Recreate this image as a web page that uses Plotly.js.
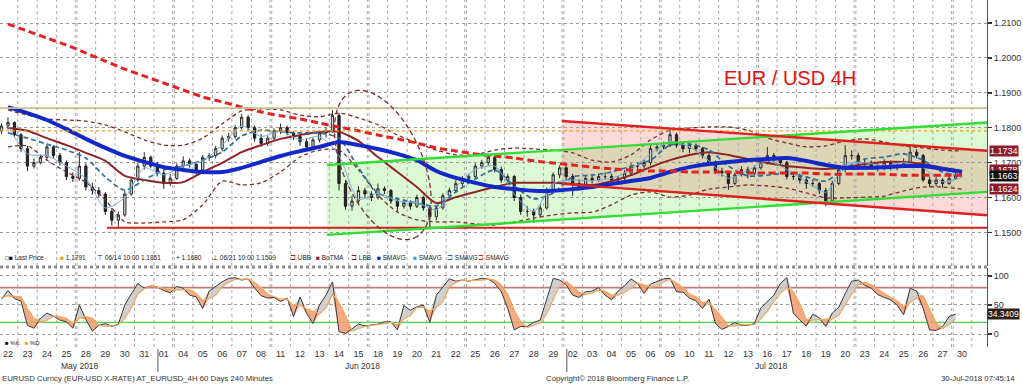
<!DOCTYPE html>
<html><head><meta charset="utf-8">
<script src="https://cdn.plot.ly/plotly-3.0.1.min.js"></script>
<style>html,body{margin:0;padding:0;background:#fff;overflow:hidden}#chart{width:1023px;height:384px}</style>
</head><body><div id="chart"></div>
<script>
// ---------------- DATA ----------------
const dates = ['2018-05-22','2018-05-23','2018-05-24','2018-05-25','2018-05-28','2018-05-29','2018-05-30','2018-05-31',
'2018-06-01','2018-06-04','2018-06-05','2018-06-06','2018-06-07','2018-06-08','2018-06-11','2018-06-12','2018-06-13','2018-06-14','2018-06-15',
'2018-06-18','2018-06-19','2018-06-20','2018-06-21','2018-06-22','2018-06-25','2018-06-26','2018-06-27','2018-06-28','2018-06-29',
'2018-07-02','2018-07-03','2018-07-04','2018-07-05','2018-07-06','2018-07-09','2018-07-10','2018-07-11','2018-07-12','2018-07-13',
'2018-07-16','2018-07-17','2018-07-18','2018-07-19','2018-07-20','2018-07-23','2018-07-24','2018-07-25','2018-07-26','2018-07-27','2018-07-30'];
const monthNames = {'05':'May 2018','06':'Jun 2018','07':'Jul 2018'};

// 4H-style candles, three per trading day
const candleOpen = [1.1790,1.1805,1.1815, 1.1780,1.1740,1.1690, 1.1700,1.1715,1.1745, 1.1720,1.1700,1.1660, 1.1655,1.1690,1.1630,
1.1620,1.1610,1.1560, 1.1535,1.1550,1.1610, 1.1650,1.1690,1.1715, 1.1690,1.1670,1.1640, 1.1655,1.1690,1.1705, 1.1695,1.1680,1.1715,
1.1720,1.1740,1.1770, 1.1775,1.1800,1.1830, 1.1800,1.1770,1.1755, 1.1770,1.1790,1.1800, 1.1785,1.1775,1.1760, 1.1745,1.1765,1.1785,
1.1790,1.1835,1.1640, 1.1575,1.1590,1.1620, 1.1610,1.1600,1.1625, 1.1620,1.1590,1.1575, 1.1585,1.1575,1.1600, 1.1570,1.1545,1.1570,
1.1605,1.1620,1.1640, 1.1655,1.1660,1.1690, 1.1700,1.1715,1.1680, 1.1650,1.1660,1.1600, 1.1560,1.1560,1.1550, 1.1570,1.1620,1.1665,
1.1685,1.1660,1.1640, 1.1630,1.1655,1.1650, 1.1660,1.1660,1.1650, 1.1655,1.1670,1.1690, 1.1690,1.1700,1.1740, 1.1745,1.1750,1.1780,
1.1750,1.1740,1.1750, 1.1740,1.1720,1.1700, 1.1675,1.1670,1.1640, 1.1665,1.1680,1.1670, 1.1685,1.1700,1.1720, 1.1710,1.1700,1.1660,
1.1660,1.1650,1.1640, 1.1640,1.1620,1.1590, 1.1640,1.1680,1.1720, 1.1720,1.1700,1.1700, 1.1690,1.1685,1.1700, 1.1685,1.1690,1.1700,
1.1730,1.1720,1.1650, 1.1640,1.1650,1.1640, 1.1655];
const candleHigh = [1.1812,1.1830,1.1818, 1.1784,1.1748,1.1712, 1.1722,1.1752,1.1750, 1.1728,1.1706,1.1672, 1.1730,1.1698,1.1642,
1.1630,1.1615,1.1570, 1.1560,1.1620,1.1660, 1.1700,1.1730,1.1720, 1.1702,1.1680,1.1668, 1.1698,1.1718,1.1712, 1.1700,1.1722,1.1728,
1.1748,1.1778,1.1785, 1.1808,1.1840,1.1836, 1.1806,1.1782,1.1778, 1.1798,1.1812,1.1806, 1.1790,1.1782,1.1768, 1.1772,1.1792,1.1800,
1.1851,1.1842,1.1650, 1.1605,1.1632,1.1628, 1.1618,1.1640,1.1632, 1.1624,1.1598,1.1595, 1.1592,1.1608,1.1605, 1.1575,1.1578,1.1612,
1.1628,1.1650,1.1662, 1.1668,1.1698,1.1708, 1.1722,1.1720,1.1688, 1.1668,1.1665,1.1608, 1.1575,1.1568,1.1580, 1.1628,1.1672,1.1692,
1.1690,1.1668,1.1652, 1.1662,1.1668,1.1668, 1.1672,1.1668,1.1662, 1.1678,1.1698,1.1700, 1.1708,1.1750,1.1755, 1.1760,1.1793,1.1786,
1.1758,1.1762,1.1755, 1.1745,1.1728,1.1706, 1.1685,1.1676,1.1672, 1.1690,1.1688,1.1692, 1.1708,1.1745,1.1728, 1.1718,1.1705,1.1672,
1.1668,1.1660,1.1652, 1.1645,1.1628,1.1648, 1.1690,1.1750,1.1735, 1.1728,1.1712,1.1706, 1.1698,1.1710,1.1706, 1.1698,1.1712,1.1745,
1.1738,1.1725,1.1658, 1.1660,1.1655,1.1662, 1.1670];
const candleLow = [1.1782,1.1795,1.1772, 1.1730,1.1676,1.1683, 1.1695,1.1708,1.1712, 1.1692,1.1650,1.1645, 1.1648,1.1620,1.1608,
1.1600,1.1550,1.1520, 1.1510,1.1545,1.1605, 1.1645,1.1680,1.1685, 1.1660,1.1625,1.1632, 1.1650,1.1680,1.1685, 1.1666,1.1672,1.1705,
1.1712,1.1732,1.1760, 1.1768,1.1795,1.1790, 1.1760,1.1745,1.1748, 1.1765,1.1782,1.1778, 1.1765,1.1748,1.1738, 1.1740,1.1758,1.1772,
1.1785,1.1620,1.1565, 1.1562,1.1580,1.1598, 1.1590,1.1594,1.1610, 1.1582,1.1560,1.1568, 1.1565,1.1570,1.1562, 1.1509,1.1535,1.1565,
1.1598,1.1612,1.1632, 1.1645,1.1652,1.1682, 1.1692,1.1672,1.1642, 1.1642,1.1590,1.1550, 1.1545,1.1528,1.1542, 1.1565,1.1612,1.1655,
1.1650,1.1605,1.1620, 1.1625,1.1640,1.1645, 1.1652,1.1642,1.1645, 1.1650,1.1662,1.1680, 1.1682,1.1692,1.1732, 1.1738,1.1745,1.1742,
1.1730,1.1728,1.1732, 1.1712,1.1690,1.1668, 1.1660,1.1622,1.1635, 1.1660,1.1655,1.1665, 1.1680,1.1695,1.1702, 1.1692,1.1652,1.1650,
1.1640,1.1625,1.1630, 1.1610,1.1575,1.1585, 1.1635,1.1672,1.1708, 1.1692,1.1680,1.1682, 1.1675,1.1678,1.1678, 1.1678,1.1684,1.1695,
1.1712,1.1645,1.1630, 1.1632,1.1628,1.1636, 1.1650];
const candleClose = [1.1805,1.1815,1.1780, 1.1740,1.1690,1.1700, 1.1715,1.1745,1.1720, 1.1700,1.1660,1.1655, 1.1690,1.1630,1.1620,
1.1610,1.1560,1.1535, 1.1550,1.1610,1.1650, 1.1690,1.1715,1.1690, 1.1670,1.1640,1.1655, 1.1690,1.1705,1.1695, 1.1680,1.1715,1.1720,
1.1740,1.1770,1.1775, 1.1800,1.1830,1.1800, 1.1770,1.1755,1.1770, 1.1790,1.1800,1.1785, 1.1775,1.1760,1.1745, 1.1765,1.1785,1.1790,
1.1835,1.1640,1.1575, 1.1590,1.1620,1.1610, 1.1600,1.1625,1.1620, 1.1590,1.1575,1.1585, 1.1575,1.1600,1.1570, 1.1545,1.1570,1.1605,
1.1620,1.1640,1.1655, 1.1660,1.1690,1.1700, 1.1715,1.1680,1.1650, 1.1660,1.1600,1.1560, 1.1560,1.1550,1.1570, 1.1620,1.1665,1.1685,
1.1660,1.1640,1.1630, 1.1655,1.1650,1.1660, 1.1660,1.1650,1.1655, 1.1670,1.1690,1.1690, 1.1700,1.1740,1.1745, 1.1750,1.1780,1.1750,
1.1740,1.1750,1.1740, 1.1720,1.1700,1.1675, 1.1670,1.1640,1.1665, 1.1680,1.1670,1.1685, 1.1700,1.1720,1.1710, 1.1700,1.1660,1.1660,
1.1650,1.1640,1.1640, 1.1620,1.1590,1.1640, 1.1680,1.1720,1.1720, 1.1700,1.1700,1.1690, 1.1685,1.1700,1.1685, 1.1690,1.1700,1.1730,
1.1720,1.1650,1.1640, 1.1650,1.1640,1.1655, 1.1663];

// studies, one value per trading day
const smaThick = [1.1859,1.1842,1.1822,1.1796,1.1768,1.1742,1.1719,1.1702,1.1687,1.1679,1.1673,1.1673,1.1685,1.1702,1.1719,1.1733,1.1745,1.1759,1.1750,1.1739,
1.1725,1.1707,1.1676,1.1656,1.1642,1.1630,1.1624,1.1619,1.1619,1.1624,1.1630,1.1639,1.1647,1.1656,1.1673,1.1687,1.1696,1.1702,1.1707,1.1710,
1.1713,1.1705,1.1693,1.1685,1.1685,1.1687,1.1690,1.1690,1.1682,1.1673];
const sma200 = [1.2097,1.2077,1.2057,1.2037,1.2014,1.1991,1.1968,1.1948,1.1928,1.1908,1.1888,1.1874,1.1859,1.1845,1.1834,1.1825,1.1813,1.1802,1.1791,1.1779,
1.1768,1.1756,1.1742,1.1733,1.1725,1.1719,1.1713,1.1705,1.1699,1.1693,1.1687,1.1682,1.1679,1.1676,1.1676,1.1673,1.1673,1.1673,1.1670,1.1670,
1.1670,1.1670,1.1667,1.1667,1.1667,1.1667,1.1664,1.1664,1.1664,1.1664];
const boTMA = [1.1799,1.1791,1.1770,1.1750,1.1728,1.1705,1.1662,1.1650,1.1642,1.1644,1.1673,1.1699,1.1730,1.1750,1.1768,1.1779,1.1788,1.1788,1.1762,1.1716,
1.1673,1.1630,1.1584,1.1601,1.1616,1.1630,1.1642,1.1642,1.1642,1.1639,1.1636,1.1647,1.1664,1.1687,1.1707,1.1722,1.1730,1.1722,1.1710,1.1699,
1.1690,1.1685,1.1682,1.1687,1.1696,1.1702,1.1702,1.1696,1.1685,1.1676];
const bbUpper = [1.1851,1.1836,1.1825,1.1822,1.1819,1.1808,1.1788,1.1765,1.1750,1.1750,1.1770,1.1811,1.1848,1.1854,1.1851,1.1836,1.1831,1.1842,1.1828,1.1808,
1.1779,1.1756,1.1736,1.1722,1.1722,1.1736,1.1742,1.1739,1.1736,1.1728,1.1707,1.1702,1.1722,1.1765,1.1793,1.1799,1.1802,1.1802,1.1793,1.1770,
1.1756,1.1745,1.1748,1.1762,1.1768,1.1759,1.1748,1.1742,1.1736,1.1733];
const bbLower = [1.1745,1.1748,1.1707,1.1673,1.1644,1.1593,1.1530,1.1527,1.1530,1.1536,1.1579,1.1647,1.1636,1.1642,1.1673,1.1716,1.1736,1.1736,1.1679,1.1607,
1.1558,1.1536,1.1530,1.1530,1.1524,1.1521,1.1530,1.1541,1.1550,1.1556,1.1558,1.1579,1.1607,1.1616,1.1601,1.1607,1.1624,1.1630,1.1636,1.1633,
1.1627,1.1613,1.1599,1.1599,1.1601,1.1604,1.1619,1.1630,1.1630,1.1624];
const smaDash = [1.1785,1.1770,1.1753,1.1736,1.1713,1.1659,1.1621,1.1650,1.1679,1.1690,1.1707,1.1730,1.1776,1.1793,1.1788,1.1785,1.1785,1.1770,1.1685,1.1613,
1.1596,1.1584,1.1576,1.1616,1.1653,1.1679,1.1633,1.1596,1.1613,1.1659,1.1664,1.1673,1.1690,1.1707,1.1750,1.1753,1.1736,1.1690,1.1662,1.1664,
1.1670,1.1659,1.1647,1.1685,1.1710,1.1716,1.1725,1.1707,1.1673,1.1659];
const smaFast = [1.1805,1.1725,1.1720,1.1690,1.1655,1.1570,1.1600,1.1685,1.1665,1.1690,1.1705,1.1750,1.1805,1.1775,1.1790,1.1765,1.1775,1.1720,1.1595,1.1612,
1.1590,1.1585,1.1565,1.1630,1.1680,1.1690,1.1610,1.1560,1.1640,1.1650,1.1648,1.1655,1.1680,1.1725,1.1760,1.1745,1.1705,1.1655,1.1678,1.1705,
1.1680,1.1645,1.1615,1.1695,1.1700,1.1690,1.1700,1.1685,1.1645,1.1658];

// stochastic oscillator, one value per candle
const stochK = [60,75,61, 57,15,10, 27,36,31, 24,21,10, 50,25,5, 15,18,13, 17,50,69, 87,79,83, 81,75,71, 82,79,67, 64,44,74, 82,90,96,
97,93,95, 79,66,62, 63,56,62, 30,64,36, 18,50,67, 90,4,1, 9,17,14, 15,17,21, 21,7,49, 41,47,50, 20,67,82, 95,91,93, 91,93,96, 95,87,73,
44,7,13, 13,20,24, 61,96,93, 85,67,63, 73,74,80, 67,59,74, 83,95,87, 70,86,90, 95,96,73, 72,62,57, 44,60,18, 8,13,20, 15,15,18,
45,56,67, 87,97,36, 24,14,34, 28,13,36, 46,70,91, 93,84,79, 68,63,59, 50,33,79, 74,44,7, 6,13,30, 34.3409];
const stochD = [62,66,65, 64,44,27, 21,24,31, 30,27,18, 27,30,27, 15,13,15, 16,27,45, 69,78,83, 81,79,76, 76,76,76, 70,58,61, 67,82,89,
94,95,95, 89,80,69, 64,60,60, 49,50,43, 39,35,45, 69,54,32, 5,9,13, 15,16,18, 20,16,26, 32,46,46, 39,46,56, 81,89,93, 92,92,93, 95,93,85,
68,41,21, 11,15,19, 35,59,83, 91,82,72, 68,71,76, 74,67,67, 72,79,88, 84,81,82, 90,94,88, 80,69,64, 54,54,41, 29,14,14, 16,16,16,
26,39,56, 70,80,73, 52,25,24, 25,25,26, 32,51,69, 85,89,85, 77,70,63, 57,47,54, 62,66,42, 19,9,16, 26];

const priceTicks = [1.15,1.16,1.17,1.18,1.19,1.20,1.21];
const oscTicks = [0,50,100];

// drawn annotations (trend channels, levels, ellipse)
const greenUpper = {x:[16.38,50.28], y:[1.1693,1.1815]};
const greenLower = {x:[16.38,50.28], y:[1.1493,1.1616]};
const redUpper   = {x:[28.45,50.28], y:[1.1819,1.1734]};
const redLower   = {x:[28.45,50.28], y:[1.1639,1.1549]};
const levelTop = 1.1856, levelLast = 1.1791, levelBottom = 1.1513, levelBottomStart = 5.08;
const ellipse = {day:19.25, price:1.16931, a:79.5, b:40, ux:0.396, uy:0.918};
const oscUpper = 80, oscLower = 20;
const lastValues = [{v:1.1734,c:'#8c1b2b'},{v:1.1678,c:'#8c1b2b'},{v:1.1663,c:'#111111'},{v:1.1624,c:'#8c1b2b'}];

// ---------------- BUILD ----------------
const X0=-0.41, X1=50.28;
const Y0=1.14037, Y1=1.21659;
const O0=-22.4, O1=113.8;
const FS="'Liberation Sans',Arial,sans-serif";
const dayX = dates.map((_,i)=>i);
const dayLabels = dates.map(d=>d.slice(8));
const cx = candleClose.map((_,k)=>Math.floor(k/3)+((k%3)-1)/3);

const traces=[];
traces.push({type:'candlestick',x:cx,open:candleOpen,high:candleHigh,low:candleLow,close:candleClose,xaxis:'x',yaxis:'y',
  increasing:{line:{color:'#2b2b2b',width:1},fillcolor:'#d6d6d6'},decreasing:{line:{color:'#1c1c1c',width:1},fillcolor:'#2b2b2b'},
  whiskerwidth:0,hoverinfo:'skip',showlegend:false});
const ln=(y,color,width,dash)=>({type:'scatter',mode:'lines',x:dayX,y:y,xaxis:'x',yaxis:'y',
  line:{color:color,width:width,dash:dash||'solid',shape:'spline',smoothing:0.7},hoverinfo:'skip',showlegend:false});
traces.push(ln(bbUpper,'#7b2d2d',1.3,'4px,3px'));
traces.push(ln(bbLower,'#7b2d2d',1.3,'4px,3px'));
traces.push(ln(boTMA,'#8e2424',2));
traces.push(ln(smaDash,'#2f6f9f',1.7,'5px,3px'));
traces.push(ln(smaFast,'#6fb0e0',1));
traces.push(ln(smaThick,'#1428c8',4));
traces.push(ln(sma200,'#e42222',3,'7px,4px'));

const kx = cx.slice(0,stochK.length);
const hiKD = stochK.map((k,i)=>Math.max(k,stochD[i]));
const loKD = stochK.map((k,i)=>Math.min(k,stochD[i]));
const osc=(y,extra)=>Object.assign({type:'scatter',mode:'lines',x:kx,y:y,xaxis:'x2',yaxis:'y2',hoverinfo:'skip',showlegend:false},extra);
traces.push(osc(stochD,{line:{width:0,color:'rgba(0,0,0,0)'}}));
traces.push(osc(hiKD,{line:{width:0,color:'rgba(0,0,0,0)'},fill:'tonexty',fillcolor:'rgba(200,200,200,0.85)'}));
traces.push(osc(stochD,{line:{width:0,color:'rgba(0,0,0,0)'}}));
traces.push(osc(loKD,{line:{width:0,color:'rgba(0,0,0,0)'},fill:'tonexty',fillcolor:'rgba(245,155,110,0.85)'}));
traces.push(osc(stochK,{line:{color:'#3a3a3a',width:1}}));
traces.push(osc(stochD,{line:{color:'#f2a65a',width:1.2}}));

// shapes
const at=(L,x)=>L.y[0]+(L.y[1]-L.y[0])*(x-L.x[0])/(L.x[1]-L.x[0]);
function band(topF,botF,xa,xb){
  const n=120, up=[], dn=[];
  for(let i=0;i<=n;i++){const x=xa+(xb-xa)*i/n; up.push(x+','+topF(x)); dn.push(x+','+botF(x));}
  return 'M'+up.join(' L')+' L'+dn.reverse().join(' L')+' Z';
}
const shapes=[];
shapes.push({type:'path',xref:'x',yref:'y',layer:'below',line:{width:0},fillcolor:'#dcf9d4',
  path:band(x=>at(greenUpper,x),x=>at(greenLower,x),greenUpper.x[0],X1)});
shapes.push({type:'path',xref:'x',yref:'y',layer:'below',line:{width:0},fillcolor:'#fbd9d9',
  path:band(x=>at(redUpper,x),x=>at(redLower,x),redUpper.x[0],X1)});
shapes.push({type:'path',xref:'x',yref:'y',layer:'below',line:{width:0},fillcolor:'#dcd5b6',
  path:band(x=>Math.min(at(greenUpper,x),at(redUpper,x)),x=>Math.max(at(greenLower,x),at(redLower,x)),redUpper.x[0],X1)});
// vertical day-boundary grid, doubled over weekends
const gridX=[];
for(let i=0;i<dates.length;i++){
  const b=i+0.5;
  if(i<dates.length-1){
    const gap=(new Date(dates[i+1])-new Date(dates[i]))/86400000;
    if(gap>1){gridX.push(b-0.045,b+0.045);} else gridX.push(b);
  } else gridX.push(b);
}
gridX.forEach(g=>{
  shapes.push({type:'line',xref:'x',yref:'y',x0:g,x1:g,y0:Y0,y1:Y1,layer:'below',line:{color:'#a9a9a9',width:1,dash:'3px,3px'}});
  shapes.push({type:'line',xref:'x2',yref:'y2',x0:g,x1:g,y0:O0,y1:O1,layer:'below',line:{color:'#a9a9a9',width:1,dash:'3px,3px'}});
});
// osc levels
shapes.push({type:'line',xref:'x2',yref:'y2',x0:X0,x1:X1,y0:oscUpper,y1:oscUpper,layer:'below',line:{color:'#c07a7a',width:1.6}});
shapes.push({type:'line',xref:'x2',yref:'y2',x0:X0,x1:X1,y0:oscLower,y1:oscLower,layer:'below',line:{color:'#4fd24f',width:1.2}});
// horizontal levels
shapes.push({type:'line',xref:'x',yref:'y',x0:X0,x1:X1,y0:levelTop,y1:levelTop,line:{color:'#c9bd8e',width:1.6}});
shapes.push({type:'line',xref:'x',yref:'y',x0:X0,x1:X1,y0:levelLast,y1:levelLast,line:{color:'#f0a030',width:1.2,dash:'dot'}});
shapes.push({type:'line',xref:'x',yref:'y',x0:levelBottomStart,x1:X1,y0:levelBottom,y1:levelBottom,line:{color:'#d42020',width:2}});
// trend lines
[[greenUpper,'#33dd33'],[greenLower,'#33dd33'],[redUpper,'#e02020'],[redLower,'#e02020']].forEach(([L,c])=>{
  shapes.push({type:'line',xref:'x',yref:'y',x0:L.x[0],x1:X1,y0:L.y[0],y1:at(L,X1),line:{color:c,width:2.4}});
});
// ellipse
(function(){
  const pxDay=987/(X1-X0), pxPrice=266/(Y1-Y0);
  const vx=ellipse.uy, vy=-ellipse.ux; const pts=[];
  for(let i=0;i<=72;i++){const t=2*Math.PI*i/72;
    const dx=ellipse.a*Math.cos(t)*ellipse.ux+ellipse.b*Math.sin(t)*vx;
    const dy=ellipse.a*Math.cos(t)*ellipse.uy+ellipse.b*Math.sin(t)*vy;
    pts.push((ellipse.day+dx/pxDay)+','+(ellipse.price-dy/pxPrice));}
  shapes.push({type:'path',xref:'x',yref:'y',path:'M'+pts.join(' L')+' Z',line:{color:'#7a3030',width:1.3,dash:'5px,3px'}});
})();
// panel separator and month separators
shapes.push({type:'line',xref:'paper',yref:'paper',x0:0,x1:1,y0:0.2305,y1:0.2305,line:{color:'#8d8d8d',width:3,dash:'dot'}});
const monthStarts=[];
dates.forEach((d,i)=>{ if(i>0 && d.slice(5,7)!==dates[i-1].slice(5,7)) monthStarts.push(i); });
monthStarts.forEach(i=>{const px=(i-0.3-X0)/(X1-X0);
  shapes.push({type:'line',xref:'paper',yref:'paper',x0:px,x1:px,y0:-0.006,y1:-0.072,line:{color:'#555',width:1}});});

// annotations
const ann=[];
ann.push({xref:'paper',yref:'paper',x:0.8004,y:0.7752,xanchor:'center',yanchor:'middle',text:'EUR / USD 4H',showarrow:false,font:{family:FS,size:20,color:'#dd1111'}});
const legendItems=[
 [3,'<span style="color:#999">◘</span><span style="color:#000">■</span> Last Price'],
 [58,'<span style="color:#f5a020">■</span> 1.1791'],
 [95,'⊤ 06/14 10:00 1.1851'],
 [174,'+ 1.1680'],
 [210,'⊥ 06/21 10:00 1.1509'],
 [288,'<span style="color:#8b1c1c">⊐</span> UBB'],
 [314,'<span style="color:#8b1c2c">■</span> BoTMA'],
 [349,'<span style="color:#8b1c1c">⊐</span> LBB'],
 [375,'<span style="color:#0010d0">■</span> SMAVG'],
 [411,'<span style="color:#3a9ae8">■</span> SMAVG'],
 [445,'<span style="color:#2a6a9a">⊐</span> SMAVG'],
 [476,'<span style="color:#e02020">⊐</span> SMAVG']];
legendItems.forEach(([px,t])=>ann.push({xref:'paper',yref:'paper',x:px/987,y:0.2565,xanchor:'left',yanchor:'middle',text:t,showarrow:false,font:{family:FS,size:6.5,color:'#222'}}));
ann.push({xref:'paper',yref:'paper',x:3/987,y:0.0125,xanchor:'left',yanchor:'middle',text:'<span style="color:#111">■</span> %K   <span style="color:#f5a020">■</span> %D',showarrow:false,font:{family:FS,size:6,color:'#222'}});
// month labels
const months=[];
dates.forEach((d,i)=>{const m=d.slice(5,7); const last=months[months.length-1];
  if(!last||last.m!==m) months.push({m:m,a:i,b:i}); else last.b=i;});
months.forEach(M=>{const c=(M.a+M.b)/2; ann.push({xref:'paper',yref:'paper',x:(c+0.2-X0)/(X1-X0),y:-0.0548,xanchor:'center',yanchor:'middle',text:monthNames[M.m],showarrow:false,font:{family:FS,size:8.5,color:'#333'}});});
ann.push({xref:'paper',yref:'paper',x:0,y:-0.0922,xanchor:'left',yanchor:'middle',text:'EURUSD Curncy (EUR-USD X-RATE) AT_EURUSD_4H 60 Days 240 Minutes',showarrow:false,font:{family:FS,size:7.8,color:'#333'}});
ann.push({xref:'paper',yref:'paper',x:617/987,y:-0.0922,xanchor:'center',yanchor:'middle',text:'Copyright© 2018 Bloomberg Finance L.P.',showarrow:false,font:{family:FS,size:7.8,color:'#333'}});
ann.push({xref:'paper',yref:'paper',x:1017/987,y:-0.0922,xanchor:'right',yanchor:'middle',text:'30-Jul-2018 07:45:14',showarrow:false,font:{family:FS,size:7.8,color:'#333'}});
lastValues.forEach(L=>ann.push({xref:'paper',yref:'y',x:1,y:L.v,xanchor:'left',yanchor:'middle',xshift:2,text:L.v.toFixed(4),showarrow:false,bgcolor:L.c,borderpad:0,font:{family:FS,size:9,color:'#fff'}}));
ann.push({xref:'paper',yref:'y2',x:1,y:stochK[stochK.length-1],xanchor:'left',yanchor:'middle',xshift:0,text:stochK[stochK.length-1].toFixed(4),showarrow:false,bgcolor:'#2e2014',borderpad:0,font:{family:FS,size:8.5,color:'#fff'}});

const layout={
  width:1023,height:384,margin:{l:0,r:36,t:0,b:37},paper_bgcolor:'#fff',plot_bgcolor:'rgba(0,0,0,0)',
  showlegend:false,boxgap:0.5,hovermode:false,
  xaxis:{domain:[0,1],anchor:'y',range:[X0,X1],showticklabels:false,showgrid:false,zeroline:false,ticks:'',rangeslider:{visible:false},fixedrange:true},
  xaxis2:{domain:[0,1],anchor:'y2',range:[X0,X1],tickmode:'array',tickvals:dayX,ticktext:dayLabels,ticks:'',showgrid:false,zeroline:false,
    tickfont:{family:FS,size:9,color:'#333'},rangeslider:{visible:false},fixedrange:true},
  yaxis:{domain:[0.2334,1],anchor:'x',range:[Y0,Y1],side:'right',tickmode:'array',tickvals:priceTicks,ticktext:priceTicks.map(v=>v.toFixed(4)),
    showgrid:true,gridcolor:'#9a9a9a',griddash:'dot',gridwidth:1,zeroline:false,ticks:'outside',ticklen:4,tickwidth:1.5,tickcolor:'#333',
    showline:true,linecolor:'#555',linewidth:1,tickfont:{family:FS,size:9,color:'#333'},fixedrange:true},
  yaxis2:{domain:[0,0.2277],anchor:'x2',range:[O0,O1],side:'right',tickmode:'array',tickvals:oscTicks,
    showgrid:true,gridcolor:'#9a9a9a',griddash:'dot',gridwidth:1,zeroline:false,ticks:'outside',ticklen:4,tickwidth:1.5,tickcolor:'#333',
    showline:true,linecolor:'#555',linewidth:1,tickfont:{family:FS,size:9,color:'#333'},fixedrange:true},
  shapes:shapes,annotations:ann
};
Plotly.newPlot('chart',traces,layout,{staticPlot:true,displayModeBar:false});
</script></body></html>
